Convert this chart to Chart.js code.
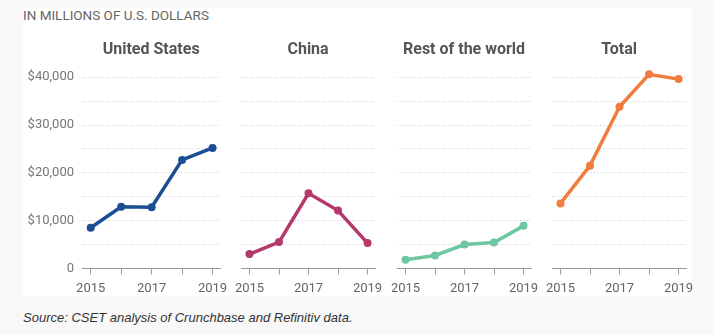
<!DOCTYPE html>
<html>
<head>
<meta charset="utf-8">
<script src="https://cdn.jsdelivr.net/npm/chart.js@4.4.1/dist/chart.umd.min.js"></script>
<style>
  html, body { margin: 0; padding: 0; }
  body { width: 714px; height: 335px; background: #f8f8f8; position: relative; overflow: hidden; }
  #panel { position: absolute; left: 23px; top: 8px; width: 669px; height: 288px; background: #fff; }
  #unit { position: absolute; left: 23px; top: 7px; font: 13.5px Roboto, sans-serif; color: #666; line-height: 16px; }
  #source { position: absolute; left: 23px; top: 310px; font: italic 13px "Liberation Sans", Arial, sans-serif; color: #333; line-height: 16px; }
  canvas { position: absolute; top: 30px; }
</style>
</head>
<body>
<div id="panel"></div>
<div id="unit">IN MILLIONS OF U.S. DOLLARS</div>
<canvas id="usChart" width="212" height="278" style="left:23px"></canvas>
<canvas id="chinaChart" width="163" height="278" style="left:227px"></canvas>
<canvas id="restChart" width="163" height="278" style="left:383px"></canvas>
<canvas id="totalChart" width="163" height="278" style="left:538px"></canvas>
<div id="source">Source: CSET analysis of Crunchbase and Refinitiv data.</div>
<script>
const years = [2015, 2016, 2017, 2018, 2019];
const labeledYears = [2015, 2017, 2019];
const usValues = [8500, 12900, 12800, 22700, 25200];
const chinaValues = [3000, 5500, 15700, 12100, 5300];
const restValues = [1800, 2700, 5000, 5400, 8900];
const totalValues = [13600, 21500, 33800, 40600, 39600];

const panels = [
  { id: "usChart", title: "United States", values: usValues, color: "#1c4e94", showY: true },
  { id: "chinaChart", title: "China", values: chinaValues, color: "#b3386b", showY: false },
  { id: "restChart", title: "Rest of the world", values: restValues, color: "#6dc7a0", showY: false },
  { id: "totalChart", title: "Total", values: totalValues, color: "#f07c3e", showY: false }
];

function formatDollars(v) {
  if (v % 10000 !== 0) return "";
  if (v === 0) return "0";
  return "$" + v.toLocaleString("en-US");
}

panels.forEach(p => {
  new Chart(document.getElementById(p.id), {
    type: "line",
    data: {
      datasets: [{
        data: years.map((x, i) => ({ x: x, y: p.values[i] })),
        borderColor: p.color,
        backgroundColor: p.color,
        borderWidth: 3.5,
        pointRadius: 4,
        pointBorderWidth: 0,
        clip: false,
        tension: 0
      }]
    },
    options: {
      responsive: false,
      animation: false,
      devicePixelRatio: 1,
      layout: { padding: { left: p.showY ? 0 : 10, right: 10, top: 0, bottom: 4 } },
      plugins: {
        legend: { display: false },
        tooltip: { enabled: false },
        title: {
          display: true,
          text: p.title,
          fullSize: false,
          color: "#555",
          font: { family: "Roboto", size: 16, weight: "bold" },
          padding: { top: 10, bottom: 18 }
        }
      },
      scales: {
        x: {
          type: "linear",
          min: 2014.714,
          max: 2019.254,
          grid: { drawOnChartArea: false, drawTicks: true, tickLength: 6, color: "#999" },
          border: { display: true, color: "#999", width: 1 },
          ticks: {
            stepSize: 1,
            includeBounds: false,
            autoSkip: false,
            maxRotation: 0,
            padding: 7,
            color: "#666",
            font: { family: "Roboto", size: 13 },
            callback: v => labeledYears.includes(v) ? String(v) : ""
          }
        },
        y: {
          min: 0,
          max: 40000,
          grid: { color: "#cccccc", drawTicks: false },
          border: { display: false, dash: [1, 2] },
          afterFit: scale => { scale.width = p.showY ? 59 : 0; },
          ticks: {
            display: p.showY,
            stepSize: 5000,
            padding: 8,
            color: "#777",
            font: { family: "Roboto", size: 13 },
            callback: formatDollars
          }
        }
      }
    }
  });
});
</script>
</body>
</html>
